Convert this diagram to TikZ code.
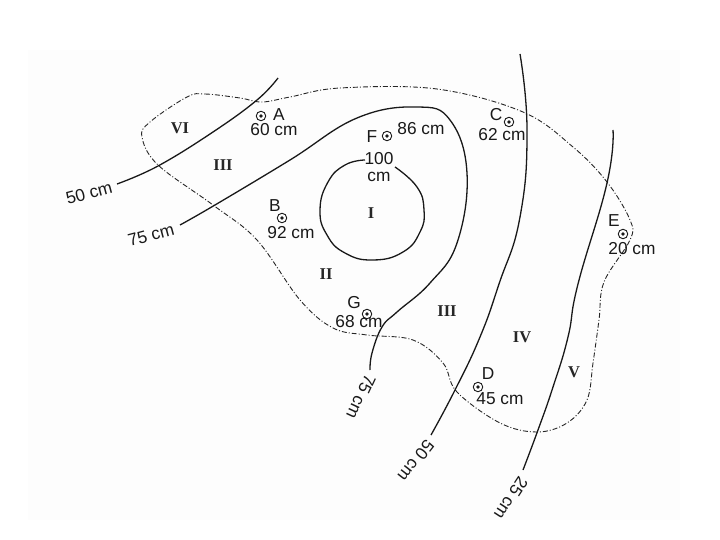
\documentclass[tikz,border=0pt]{standalone}
\usepackage{fontspec}
\setmainfont{Liberation Sans}
\newfontfamily\romanfont{Liberation Serif}
\begin{document}
\begin{tikzpicture}[x=1pt,y=-1pt,
  contour/.style={line width=1.3pt,black!90},
  zone/.style={line width=0.9pt,black!85,dash pattern=on 5pt off 2pt on 1pt off 2pt},
  lab/.style={font=\fontsize{17.3}{18}\selectfont,inner sep=0pt,text=black!90},
  rom/.style={font=\romanfont\bfseries\fontsize{16.5}{16.5}\selectfont,inner sep=0pt,text=black!85},
  site/.style={circle,draw=black!90,line width=0.9pt,minimum size=9.5pt,inner sep=0pt,
    path picture={\fill[black!90] (path picture bounding box.center) circle (1.9pt);}}]
\useasboundingbox (0,0) rectangle (720,540);
\fill[white] (0,0) rectangle (720,540);
\fill[black!0.6] (28,50) rectangle (680,520);
% zone boundary
\draw[zone] plot[smooth cycle,tension=0.6] coordinates {(187,97)(205,94)(240,98)(262,102)(290,97)(340,88)(437,89)(523,112)(573,147)(607,182)(630,220)(630,240)(604,282)(599,320)(593,363)(587,400)(567,423)(537,432)(500,423)(457,392)(443,363)(413,340)(367,335)(333,328)(300,300)(257,240)(213,205)(158,165)(142,137)(150,122)};
% contours
\draw[contour] plot[smooth,tension=0.7] coordinates {(117,184)(158,166)(213,132)(257,100)(278,78)};
\draw[contour] plot[smooth,tension=0.7] coordinates {(180,225)(215,205)(290,160)(357,118)(417,107)(450,120)(467,173)(457,243)(430,283)(397,312)(382,327)(372,353)(370,370)};
\draw[contour] plot[smooth,tension=0.8] coordinates {(365,160)(345,165)(328,182)(320,210)(327,235)(345,253)(373,260)(403,252)(420,232)(424,210)(417,187)(395,167)};
\draw[contour] plot[smooth,tension=0.8] coordinates {(520,54)(527,130)(520,217)(499,284)(480,337)(455,390)(431,435)};
\draw[contour] plot[smooth,tension=0.8] coordinates {(613,130)(607,183)(578,284)(568,337)(553,387)(538,430)(523,470)};
% sites
\node[site] (sA) at (261,116) {};
\node[site] (sB) at (282,218) {};
\node[site] (sC) at (509,122) {};
\node[site] (sD) at (478,387) {};
\node[site] (sE) at (623,234) {};
\node[site] (sF) at (387,136) {};
\node[site] (sG) at (367,314) {};
% site labels
\node[lab] (lA) at (279,115) {A};
\node[lab] (vA) at (274,130) {60 cm};
\node[lab] (lB) at (275,206) {B};
\node[lab] (vB) at (291,233) {92 cm};
\node[lab] (lC) at (496,115) {C};
\node[lab] (vC) at (502,135) {62 cm};
\node[lab] (lD) at (488,374) {D};
\node[lab] (vD) at (500,399) {45 cm};
\node[lab] (lE) at (614,221) {E};
\node[lab] (vE) at (632,249) {20 cm};
\node[lab] (lF) at (372,137) {F};
\node[lab] (vF) at (421,129) {86 cm};
\node[lab] (lG) at (354,303) {G};
\node[lab] (vG) at (359,322) {68 cm};
\node[lab] (t1) at (379,159) {100};
\node[lab] (t2) at (379,177) {cm};
% contour labels
\node[lab,rotate=15] (c1) at (89,193) {50 cm};
\node[lab,rotate=15] (c2) at (151,235) {75 cm};
\node[lab,rotate=-115] (c3) at (361,397) {75 cm};
\node[lab,rotate=-128] (c4) at (416,461) {50 cm};
\node[lab,rotate=-123] (c5) at (511,498) {25 cm};
% zone labels
\node[rom] (r6) at (180,128) {VI};
\node[rom] (r3a) at (223,165) {III};
\node[rom] (r1) at (371,213) {I};
\node[rom] (r2) at (326,274) {II};
\node[rom] (r3b) at (447,311) {III};
\node[rom] (r4) at (522,337) {IV};
\node[rom] (r5) at (574,372) {V};
\end{tikzpicture}
\end{document}
